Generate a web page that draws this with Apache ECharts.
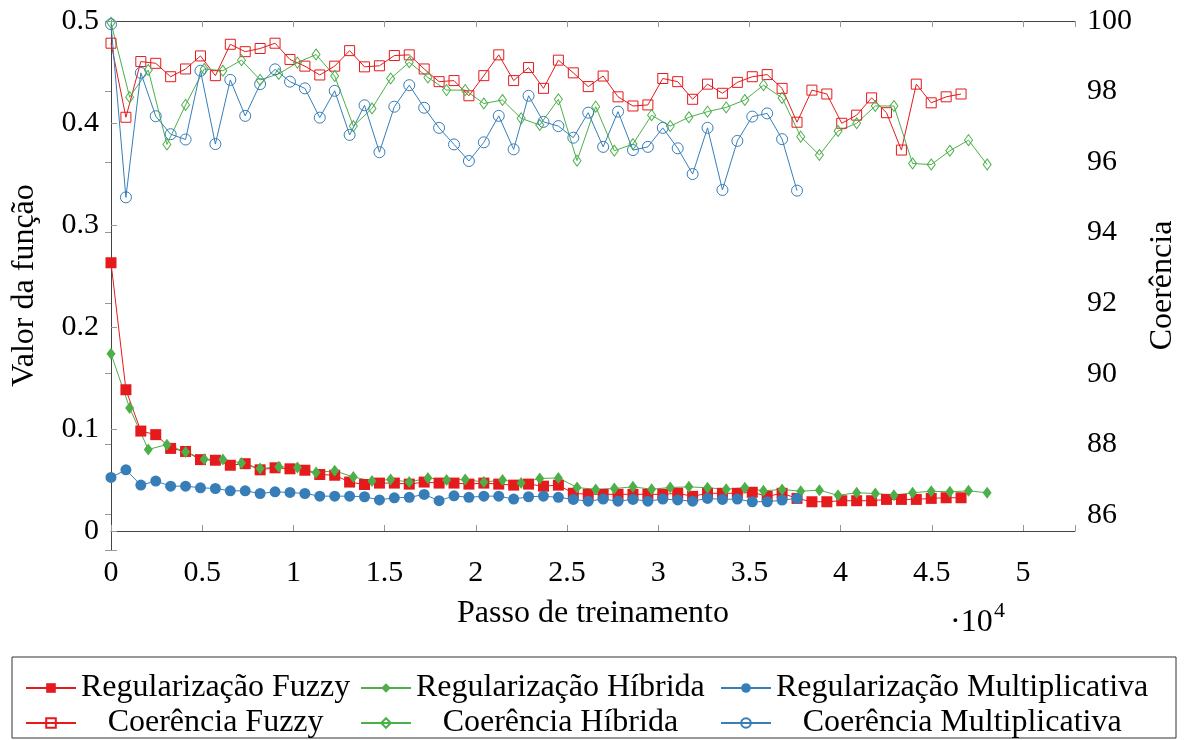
<!DOCTYPE html>
<html>
<head>
<meta charset="utf-8">
<script src="https://cdn.jsdelivr.net/npm/echarts@6/dist/echarts.min.js"></script>
<style>html,body{margin:0;padding:0;background:#fff}#c{width:1189px;height:740px}</style>
</head>
<body>
<div id="c"></div>
<script>
// Training steps (x) for the Fuzzy / Multiplicativa runs and for the Híbrida run
const stepsFM = [0,818,1635,2453,3270,4088,4906,5723,6541,7358,8176,8994,9811,10629,11446,12264,13082,13899,14717,15534,16352,17170,17987,18805,19622,20440,21258,22075,22893,23710,24528,25346,26163,26981,27798,28616,29434,30251,31069,31886,32704,33522,34339,35157,35974,36792,37610,38427,39245,40062,40880,41698,42515,43333,44150,44968,45786,46603];
const stepsH = [0,1022,2044,3066,4088,5110,6132,7154,8176,9198,10220,11242,12264,13286,14308,15330,16352,17374,18396,19418,20440,21462,22484,23506,24528,25550,26572,27594,28616,29638,30660,31682,32704,33726,34748,35770,36792,37814,38836,39858,40880,41902,42924,43946,44968,45990,47012,48034];

// Valor da função (left axis)
const regFuzzy = [0.263,0.1385,0.098,0.0945,0.081,0.078,0.070,0.0694,0.0645,0.066,0.060,0.062,0.061,0.0596,0.0554,0.0547,0.048,0.0456,0.047,0.047,0.046,0.048,0.047,0.047,0.046,0.047,0.046,0.045,0.046,0.044,0.045,0.037,0.036,0.036,0.036,0.036,0.036,0.036,0.037,0.034,0.037,0.037,0.037,0.038,0.034,0.037,0.032,0.0287,0.0287,0.0297,0.0297,0.0297,0.031,0.031,0.031,0.032,0.0326,0.0326];
const regHib = [0.1737,0.1206,0.080,0.0847,0.0775,0.0704,0.070,0.0668,0.0613,0.0629,0.0622,0.0574,0.059,0.053,0.049,0.0505,0.048,0.052,0.050,0.0505,0.048,0.050,0.047,0.0515,0.052,0.0427,0.0408,0.0417,0.0433,0.041,0.0427,0.0433,0.0424,0.041,0.0424,0.0394,0.0408,0.039,0.040,0.035,0.0375,0.0368,0.035,0.0375,0.039,0.0384,0.0394,0.0375];
const regMult = [0.0525,0.060,0.045,0.049,0.044,0.044,0.0424,0.0417,0.0394,0.0394,0.0368,0.0384,0.0378,0.0368,0.0342,0.0342,0.0342,0.0336,0.0305,0.0326,0.033,0.0359,0.0297,0.0345,0.033,0.0342,0.0342,0.0313,0.0336,0.0342,0.033,0.031,0.0293,0.0313,0.0293,0.031,0.0293,0.0313,0.0305,0.0293,0.032,0.031,0.0313,0.0287,0.0287,0.0303,0.032];

// Coerência (right axis)
const coerFuzzy = [99.37,97.27,98.85,98.80,98.42,98.64,99.01,98.45,99.34,99.13,99.22,99.37,98.91,98.72,98.47,98.72,99.16,98.70,98.73,99.02,99.04,98.64,98.28,98.31,97.88,98.45,99.04,98.31,98.68,98.09,98.89,98.53,98.14,98.44,97.85,97.59,97.62,98.37,98.28,97.78,98.21,97.95,98.26,98.42,98.48,98.09,97.13,98.04,97.93,97.10,97.33,97.82,97.40,96.34,98.21,97.68,97.85,97.93];
const coerHib = [99.95,97.84,98.61,96.50,97.62,98.64,98.59,98.89,98.33,98.50,98.82,99.05,98.44,97.02,97.52,98.37,98.83,98.40,98.04,98.04,97.66,97.76,97.24,97.05,97.78,96.04,97.57,96.32,96.51,97.33,97.02,97.27,97.43,97.55,97.76,98.18,97.82,96.72,96.20,96.88,97.10,97.59,97.59,95.96,95.93,96.32,96.62,95.93];
const coerMult = [99.91,95.0,98.53,97.30,96.79,96.64,98.59,96.51,98.33,97.31,98.21,98.63,98.28,98.09,97.26,98.02,96.77,97.61,96.28,97.57,98.18,97.54,96.97,96.50,96.03,96.56,97.31,96.36,97.88,97.14,97.02,96.69,97.40,96.43,97.43,96.34,96.43,96.97,96.39,95.66,96.97,95.21,96.60,97.29,97.38,96.65,95.19];

const names = ['Regularização Fuzzy','Regularização Híbrida','Regularização Multiplicativa','Coerência Fuzzy','Coerência Híbrida','Coerência Multiplicativa'];
const xTickLabels = ['0','0.5','1','1.5','2','2.5','3','3.5','4','4.5','5'];

const RED = '#e41a1c', GREEN = '#4daf4a', BLUE = '#377eb8';
const FONT = '"Liberation Serif", "Times New Roman", serif';
const FS = 32, TFS = 30;

function pair(xs, ys) { return ys.map((v, i) => [xs[i], v]); }

const ctx = document.createElement('canvas').getContext('2d');
ctx.font = FS + 'px ' + FONT;
function tw(s) { return ctx.measureText(s).width; }

function filledSeries(name, xs, ys, color, symbol, size) {
  return { name, type: 'line', xAxisIndex: 0, yAxisIndex: 0, data: pair(xs, ys),
    symbol, symbolSize: size, itemStyle: { color }, lineStyle: { color, width: 1 }, emphasis: { disabled: true } };
}
function openSeries(name, xs, ys, color, symbol, size) {
  return { name, type: 'line', xAxisIndex: 0, yAxisIndex: 1, data: pair(xs, ys),
    symbol, symbolSize: size, itemStyle: { color: 'rgba(255,255,255,0)', borderColor: color, borderWidth: 1 },
    lineStyle: { color, width: 1 }, emphasis: { disabled: true } };
}

const colX = [20, 355, 715];
const rowTop = [667, 702];
const legends = [];
for (let c = 0; c < 3; c++) {
  const w1 = tw(names[c]), w2 = tw(names[c + 3]);
  legends.push({ data: [names[c]], left: colX[c], top: rowTop[0], itemWidth: 50, itemHeight: 12, selectedMode: false,
    textStyle: { fontFamily: FONT, fontSize: FS, color: '#000' } });
  legends.push({ data: [names[c + 3]], left: colX[c], top: rowTop[1], itemWidth: 50, itemHeight: 12, selectedMode: false,
    textStyle: { fontFamily: FONT, fontSize: FS, color: '#000', padding: [0, 0, 0, Math.max(0, (w1 - w2) / 2)] } });
}

const axisLineStyle = { show: true, lineStyle: { color: '#444', width: 1 } };
const tickStyle = { show: true, inside: true, length: 6, lineStyle: { color: '#999' } };

const option = {
  animation: false,
  backgroundColor: '#fff',
  grid: { left: 111, right: 114, top: 21, bottom: 190, containLabel: false },
  legend: legends,
  xAxis: [
    { type: 'value', position: 'bottom', min: 0, max: 52850, interval: 5000,
      name: 'Passo de treinamento', nameLocation: 'middle', nameGap: 48,
      nameTextStyle: { fontFamily: FONT, fontSize: FS, color: '#000' },
      axisLine: axisLineStyle, axisTick: tickStyle, splitLine: { show: false },
      axisLabel: { fontFamily: FONT, fontSize: TFS, color: '#000', margin: 8,
        formatter: v => (v % 5000 === 0 ? xTickLabels[v / 5000] : '') } },
    { type: 'value', position: 'top', min: 0, max: 52850, interval: 5000,
      axisLine: axisLineStyle, axisTick: tickStyle, splitLine: { show: false }, axisLabel: { show: false } }
  ],
  yAxis: [
    { type: 'value', position: 'left', min: -0.0186, max: 0.5,
      name: 'Valor da função', nameLocation: 'middle', nameGap: 70,
      nameTextStyle: { fontFamily: FONT, fontSize: FS, color: '#000' },
      axisLine: axisLineStyle, axisTick: tickStyle, splitLine: { show: false },
      axisLabel: { fontFamily: FONT, fontSize: TFS, color: '#000', margin: 12,
        formatter: v => { const k = Math.round(v * 10); return Math.abs(v * 10 - k) < 1e-6 ? (k === 0 ? '0' : (k / 10).toString()) : ''; } } },
    { type: 'value', position: 'right', min: 85, max: 100, splitNumber: 7,
      name: 'Coerência', nameLocation: 'middle', nameGap: 72,
      nameTextStyle: { fontFamily: FONT, fontSize: FS, color: '#000' },
      axisLine: axisLineStyle, axisTick: tickStyle, splitLine: { show: false },
      axisLabel: { fontFamily: FONT, fontSize: TFS, color: '#000', margin: 12,
        formatter: v => (Math.abs(v / 2 - Math.round(v / 2)) < 1e-6 ? String(v) : '') } }
  ],
  graphic: [
    { type: 'text', left: 950, top: 607, style: { text: '·10', font: FS + 'px ' + FONT, fill: '#000' } },
    { type: 'text', left: 994, top: 600, style: { text: '4', font: '22px ' + FONT, fill: '#000' } },
    { type: 'rect', shape: { x: 12, y: 657, width: 1164, height: 81 }, style: { fill: 'none', stroke: '#333', lineWidth: 1 }, silent: true }
  ],
  series: [
    filledSeries(names[0], stepsFM, regFuzzy, RED, 'rect', 11),
    filledSeries(names[1], stepsH, regHib, GREEN, 'diamond', [9, 12]),
    filledSeries(names[2], stepsFM, regMult, BLUE, 'circle', 11),
    openSeries(names[3], stepsFM, coerFuzzy, RED, 'rect', 10),
    openSeries(names[4], stepsH, coerHib, GREEN, 'diamond', [8, 11]),
    openSeries(names[5], stepsFM, coerMult, BLUE, 'circle', 11)
  ]
};

const chart = echarts.init(document.getElementById('c'), null, { renderer: 'canvas' });
chart.setOption(option);
</script>
</body>
</html>
